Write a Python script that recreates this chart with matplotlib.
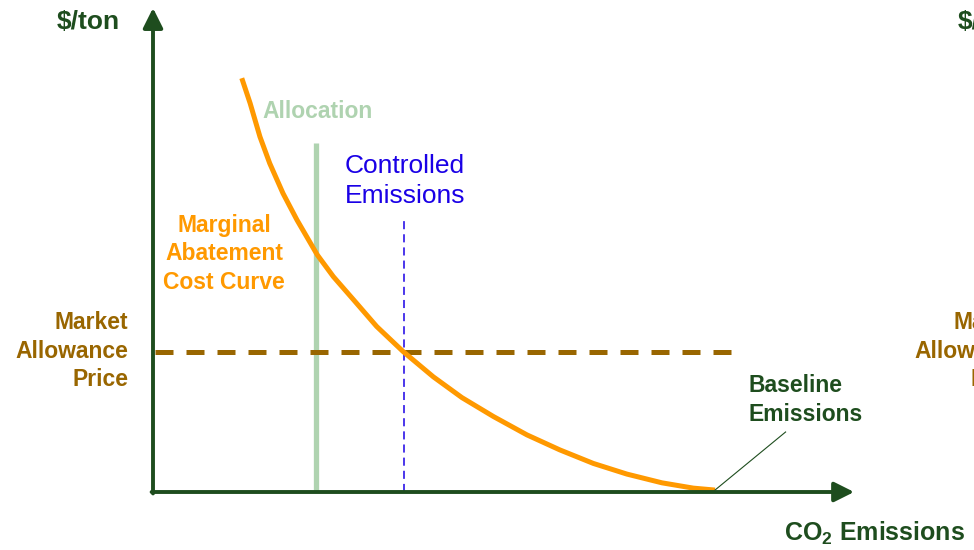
import matplotlib
matplotlib.use("Agg")
import matplotlib.pyplot as plt

plt.rcParams["font.family"] = ["Liberation Sans", "DejaVu Sans"]
plt.rcParams["mathtext.fontset"] = "custom"
plt.rcParams["mathtext.bf"] = "Liberation Sans:bold"
plt.rcParams["mathtext.rm"] = "Liberation Sans:bold"
plt.rcParams["mathtext.default"] = "bf"

# conceptual curve (emissions, $/ton) on a 0-100 scale
mac_emissions = [12.7, 13.9, 15.3, 16.7, 18.6, 20.6, 23.5, 25.8, 28.7, 32.0, 35.8,
                 40.1, 44.2, 48.7, 53.5, 58.2, 63.0, 67.8, 72.8, 77.3, 80.4]
mac_price = [85.5, 80.3, 73.4, 67.9, 61.7, 56.2, 49.0, 44.5, 39.7, 34.2, 29.0,
             23.8, 19.5, 15.6, 11.8, 8.7, 5.9, 3.7, 1.9, 0.8, 0.4]
allocation_x = 23.3
allocation_top = 72.1
controlled_x = 35.9
controlled_top = 56.6
price_y = 28.9
price_end = 83.3
baseline = (80.4, 0.4)

GREEN = "#1e4d1e"
ORANGE = "#ff9900"
BROWN = "#996600"
LIGHT = "#afd3b0"
BLUE = "#1a00e6"

W, H = 974, 550
fig = plt.figure(figsize=(W / 100, H / 100), dpi=100)


def fx(x):
    return x / W


def fy(y):
    return 1 - y / H


ax = fig.add_axes([fx(153), fy(492), (852 - 153) / W, (492 - 8) / H])
ax.set_xlim(0, 100)
ax.set_ylim(0, 100)
ax.axis("off")

# axes with arrowheads
arrow = dict(arrowstyle="-|>,head_length=12,head_width=6", mutation_scale=1,
             lw=2.8, color=GREEN, shrinkA=0, shrinkB=0)
ax.annotate("", xy=(100.3, 0), xytext=(-0.2, 0), arrowprops=arrow, annotation_clip=False)
ax.annotate("", xy=(0, 100), xytext=(0, -0.3), arrowprops=arrow, annotation_clip=False)

ax.plot([allocation_x, allocation_x], [0, allocation_top], color=LIGHT, lw=3.8,
        solid_capstyle="butt", clip_on=False)
ax.plot([controlled_x, controlled_x], [0, controlled_top], color=BLUE, lw=1.1,
        linestyle=(0, (5.3, 3.3)), clip_on=False)
ax.plot([0.3, price_end], [price_y, price_y], color=BROWN, lw=3.6,
        linestyle=(0, (3.6, 2.6)), clip_on=False)
ax.plot(mac_emissions, mac_price, color=ORANGE, lw=3.6, solid_capstyle="butt",
        solid_joinstyle="round", clip_on=False)
ax.plot([baseline[0], 90.5], [baseline[1], 12.4], color=GREEN, lw=0.8, clip_on=False)

bold = dict(fontweight="bold", fontsize=16.5, linespacing=1.32)
fig.text(fx(120), fy(22), "$/ton", color=GREEN, fontweight="bold", fontsize=19,
         ha="right", va="center")
fig.text(fx(958), fy(22), "$/ton", color=GREEN, fontweight="bold", fontsize=19,
         ha="left", va="center")
fig.text(fx(318), fy(112), "Allocation", color=LIGHT, ha="center", va="center", **bold)
fig.text(fx(345), fy(181), "Controlled\nEmissions", color=BLUE, fontsize=19,
         ha="left", va="center", linespacing=1.28)
fig.text(fx(224), fy(254), "Marginal\nAbatement\nCost Curve", color=ORANGE,
         ha="center", va="center", multialignment="center", **bold)
fig.text(fx(128), fy(351), "Market\nAllowance\nPrice", color=BROWN,
         ha="right", va="center", multialignment="right", **bold)
fig.text(fx(1027), fy(351), "Market\nAllowance\nPrice", color=BROWN,
         ha="right", va="center", multialignment="right", **bold)
fig.text(fx(748), fy(400), "Baseline\nEmissions", color=GREEN,
         ha="left", va="center", multialignment="left", **bold)
fig.text(fx(784), fy(533), r"CO$_2$ Emissions", color=GREEN, fontweight="bold",
         fontsize=18, ha="left", va="center")

fig.savefig("out.png", dpi=100)
